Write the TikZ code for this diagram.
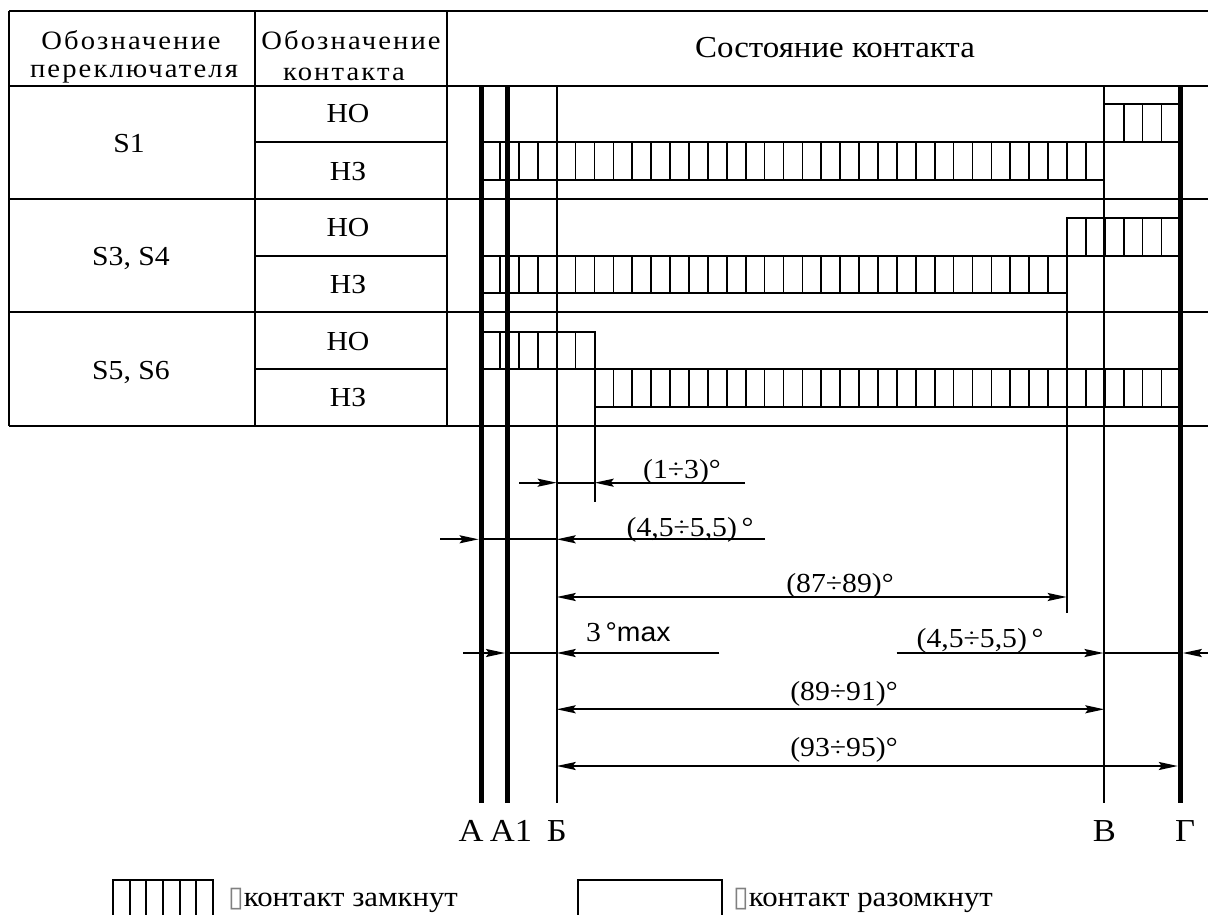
\documentclass[tikz,border=0pt]{standalone}
\usepackage{fontspec}
\setmainfont{Liberation Serif}[FakeStretch=1.08]
\newfontfamily\sansf{Liberation Sans}[FakeStretch=1.05]
\newfontfamily\hdrf{Liberation Serif}[FakeStretch=1.08,LetterSpace=8]
\newfontfamily\symf{DejaVu Sans}
\usetikzlibrary{arrows.meta}
\newcommand\cbar[6]{%
  \draw[tline] (#1,#3) rectangle (#2,#4);
  \foreach \k in {#5,...,#6} \draw[hatch] ({556.7+18.9*\k},#3) -- ({556.7+18.9*\k},#4);
}
\begin{document}
\begin{tikzpicture}[x=1pt,y=-1pt,
  tline/.style={line width=1.9pt},
  heavy/.style={line width=5pt},
  hatch/.style={line width=1.7pt},
  tipr/.style={line width=1.9pt,-{Stealth[length=19pt,width=8pt,inset=3pt]}},
  tipb/.style={line width=1.9pt,{Stealth[length=19pt,width=8pt,inset=3pt]}-{Stealth[length=19pt,width=8pt,inset=3pt]}},
  hdr/.style={font=\hdrf\fontsize{26.5}{30}\selectfont,inner sep=0pt,anchor=base},
  txt/.style={font=\fontsize{27.5}{30}\selectfont,inner sep=0pt,anchor=base},
  big/.style={font=\fontsize{30.5}{34}\selectfont,inner sep=0pt,anchor=base},
  lbl/.style={font=\fontsize{32}{36}\selectfont,inner sep=0pt,anchor=base},
  leg/.style={font=\fontsize{28.5}{30}\selectfont,inner sep=0pt,anchor=base west}]
\useasboundingbox (0,0) rectangle (1208,915);
\fill[white] (0,0) rectangle (1208,915);

% ---------- table ----------
\draw[tline] (9,10.7) -- (1208,10.7);
\foreach \y in {85.7,199,312.3,425.7} \draw[tline] (9,\y) -- (1208,\y);
\foreach \y in {142.3,255.7,369} \draw[tline] (255,\y) -- (447,\y);
\foreach \x in {9,255,447} \draw[tline] (\x,10.7) -- (\x,425.7);

\node[hdr] (h1a) at (131,50) {Обозначение};
\node[hdr] (h1b) at (134,77.3) {переключателя};
\node[hdr] (h2a) at (351,50) {Обозначение};
\node[hdr] (h2b) at (344,80.7) {контакта};
\node[big] (h3) at (835,57.3) {Состояние контакта};

\node[txt] (s1) at (129,152.5) {S1};
\node[txt] (s3) at (131,265.5) {S3, S4};
\node[txt] (s5) at (131,379) {S5, S6};
\node[txt] (c1) at (348,122.5) {НО};
\node[txt] (c2) at (348,180) {НЗ};
\node[txt] (c3) at (348,236.8) {НО};
\node[txt] (c4) at (348,293.5) {НЗ};
\node[txt] (c5) at (348,350.2) {НО};
\node[txt] (c6) at (348,406.8) {НЗ};

% ---------- bars ----------
\cbar{481.7}{1104.3}{142.3}{180}{-3}{28}
\cbar{1104.3}{1180}{104.3}{142.3}{30}{32}
\cbar{481.7}{1066.7}{255.7}{293.3}{-3}{26}
\cbar{1066.7}{1180}{217.7}{255.7}{28}{32}
\cbar{481.7}{594.7}{331.7}{369}{-3}{1}
\cbar{594.7}{1180}{369}{406.7}{3}{32}

% ---------- reference lines ----------
\coordinate (A) at (481.2,85.7);
\coordinate (A1) at (507.5,85.7);
\coordinate (B) at (556.7,85.7);
\coordinate (V) at (1104.3,85.7);
\coordinate (G) at (1180.3,85.7);
\draw[heavy] (A) -- (481.2,803);
\draw[heavy] (A1) -- (507.5,803);
\draw[tline] (B) -- (556.7,803);
\draw[tline] (V) -- (1104.3,803);
\draw[heavy] (G) -- (1180.3,803);
\draw[tline] (594.7,331.7) -- (594.7,501.7);
\draw[tline] (1066.7,217.7) -- (1066.7,613.3);

\node[lbl] (lA) at (471,841) {А};
\node[lbl] (lA1) at (511,841) {А1};
\node[lbl] (lB) at (556.7,841) {Б};
\node[lbl] (lV) at (1104.3,841) {В};
\node[lbl] (lG) at (1185,841) {Г};

% ---------- dimensions ----------
% (1÷3)
\draw[tline] (556.7,482.7) -- (594.7,482.7);
\draw[tipr] (519.3,482.7) -- (556.7,482.7);
\draw[tipr] (745,482.7) -- (594.7,482.7);
\node[txt] (d1) at (682,478.3) {(1÷3)°};
% (4,5÷5,5) top
\draw[tline] (478.6,539.3) -- (556.7,539.3);
\draw[tipr] (440,539.3) -- (478.6,539.3);
\draw[tipr] (765,539.3) -- (556.7,539.3);
\node[txt] (d2) at (690,536) {(4,5÷5,5)\,°};
% (87÷89)
\draw[tipb] (556.7,597) -- (1066.7,597);
\node[txt] (d3) at (840,592) {(87÷89)°};
% 3° max
\draw[tipr] (463,653) -- (505,653);
\draw[tline] (505,653) -- (556.7,653);
\draw[tipr] (719.3,653) -- (556.7,653);
\node[inner sep=0pt,anchor=base west] (d4) at (586,641.7) {\fontsize{27.5}{30}\selectfont 3\,{\sansf\fontsize{27}{30}\selectfont °max}};
% (4,5÷5,5) right
\draw[tipr] (896.7,653) -- (1103.5,653);
\draw[tline] (1103.5,653) -- (1182.8,653);
\draw[tipr] (1208,653) -- (1182.8,653);
\node[txt] (d5) at (980,647) {(4,5÷5,5)\,°};
% (89÷91)
\draw[tipb] (556.7,709.3) -- (1104.3,709.3);
\node[txt] (d6) at (844,700) {(89÷91)°};
% (93÷95)
\draw[tipb] (556.7,766) -- (1177.8,766);
\node[txt] (d7) at (844,756.7) {(93÷95)°};

% ---------- legend ----------
\draw[tline] (113,916) -- (113,880) -- (213,880) -- (213,916);
\foreach \i in {1,...,5} \draw[hatch] ({113+100/6*\i},880) -- ({113+100/6*\i},916);
\node[leg] (t1) at (228,906) {{\symf\color{gray}▯}контакт замкнут};
\draw[tline] (578,916) -- (578,880) -- (722,880) -- (722,916);
\node[leg] (t2) at (733,906) {{\symf\color{gray}▯}контакт разомкнут};
\end{tikzpicture}
\end{document}
